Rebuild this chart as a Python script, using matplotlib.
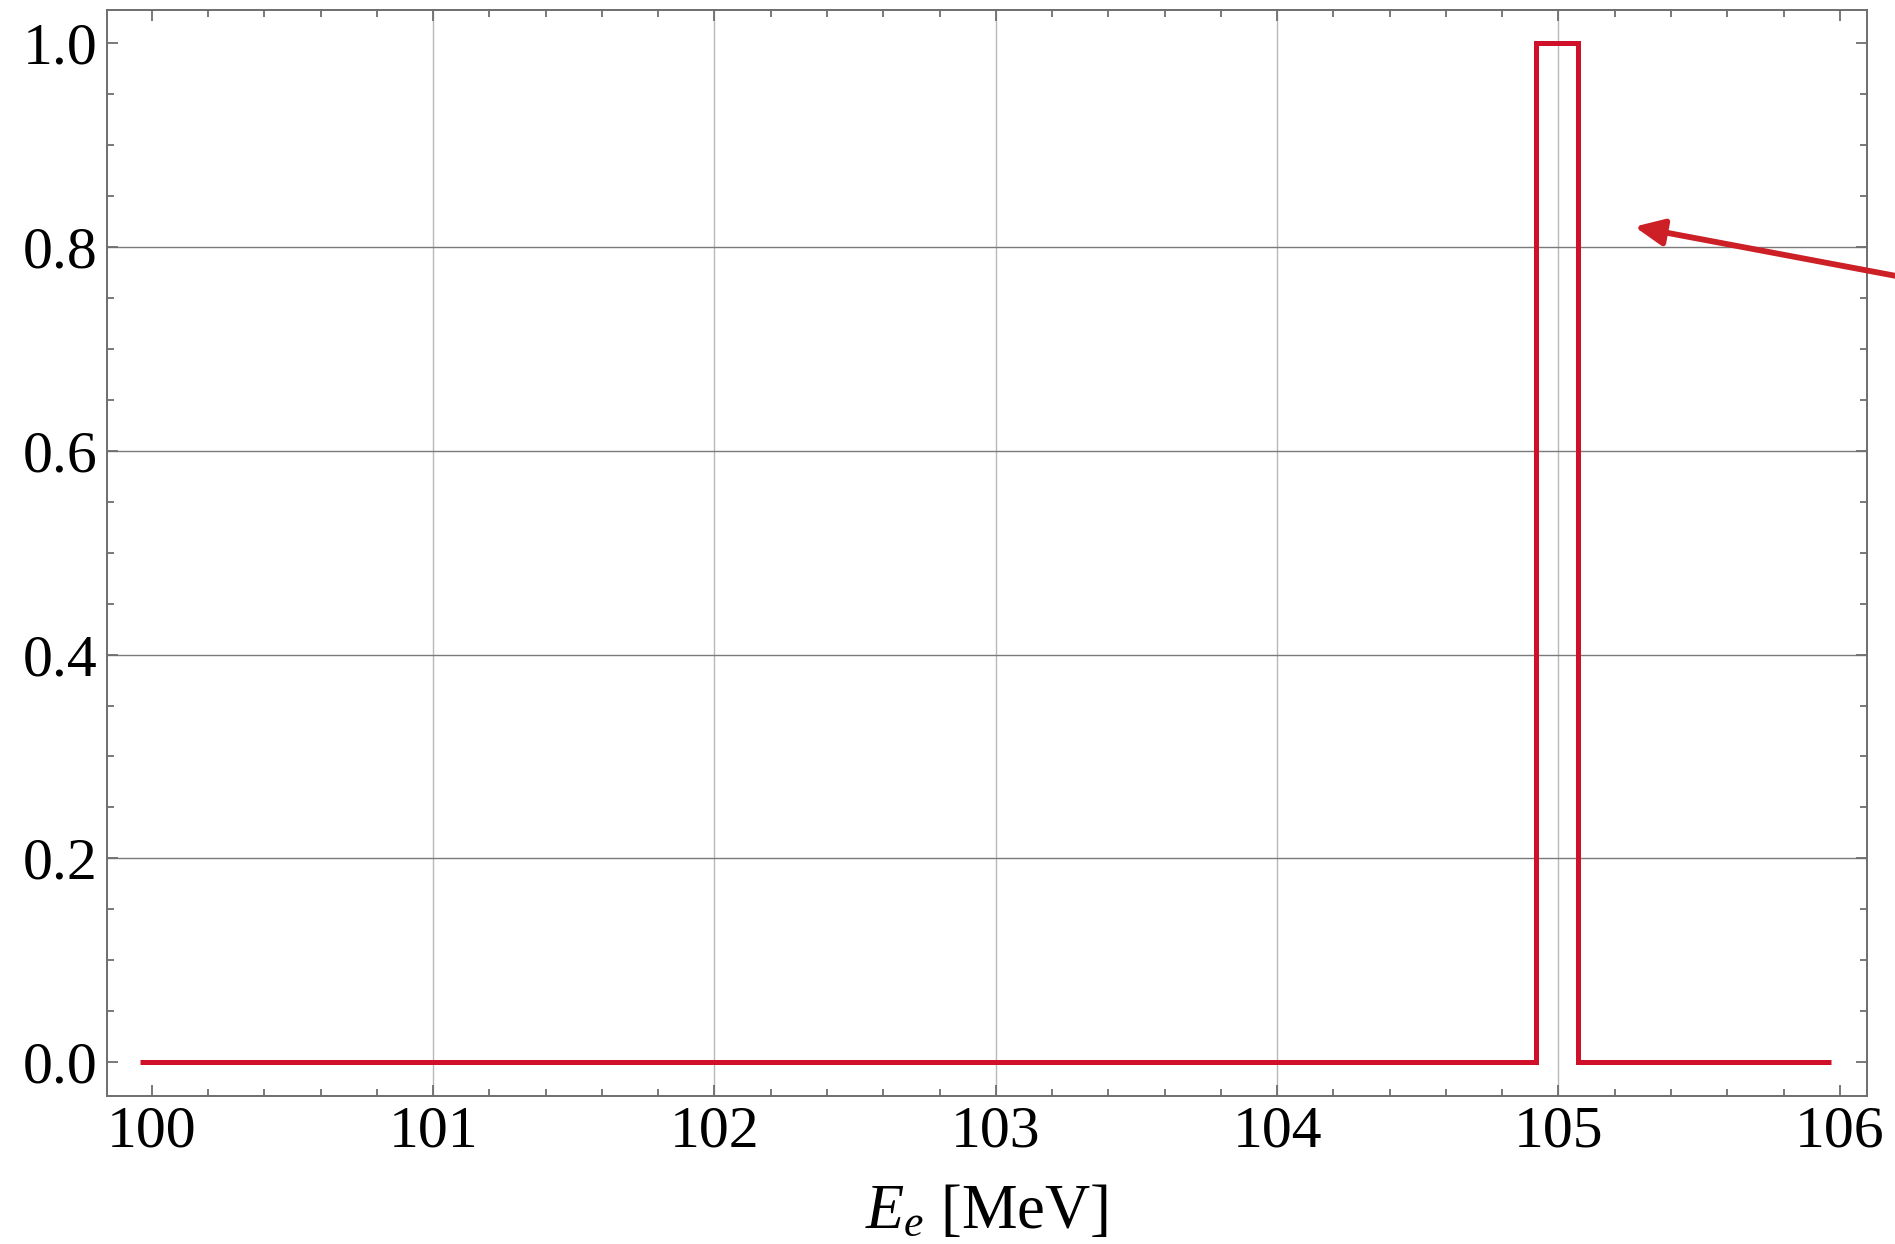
#!/usr/bin/env python3
# Step profile in E_e with a pointer arrow at the peak.
import matplotlib
matplotlib.use("Agg")
import matplotlib.pyplot as plt
from matplotlib.ticker import MultipleLocator

# data: bin edges in MeV and the value in each bin
edges = [99.96, 104.92, 105.07, 105.97]
values = [0.0, 1.0, 0.0]

# arrow (tip, tail) in data coords
arrow_tip = (105.27, 0.82)
arrow_tail = (106.5, 0.756)

x_ticks = [100, 101, 102, 103, 104, 105, 106]
y_ticks = [0.0, 0.2, 0.4, 0.6, 0.8, 1.0]

line_red = "#d01028"
arrow_red = "#cc1f26"
spine_gray = "#6e6e6e"

plt.rcParams["font.family"] = ["Liberation Serif", "DejaVu Serif"]
plt.rcParams["mathtext.fontset"] = "custom"
plt.rcParams["mathtext.rm"] = "Liberation Serif"
plt.rcParams["mathtext.it"] = "Liberation Serif:italic"

fig = plt.figure(figsize=(18.95, 12.44), dpi=100)
ax = fig.add_axes([0.0566, 0.1192, 0.9284, 0.8728])

# grid only on the inner ticks (no lines at the outer ones)
for xv in x_ticks[1:-1]:
    ax.axvline(xv, color="#b8b8b8", lw=1.0, zorder=1)
for yv in y_ticks[1:-1]:
    ax.axhline(yv, color="#7a7a7a", lw=1.0, zorder=1)

ax.stairs(values, edges, baseline=None, color=line_red, lw=3.6,
          joinstyle="miter", capstyle="butt", zorder=3)

ax.annotate("", xy=arrow_tip, xytext=arrow_tail, xycoords="data",
            annotation_clip=False,
            arrowprops=dict(arrowstyle="-|>,head_length=1.75,head_width=0.8",
                            color=arrow_red, lw=4.2, shrinkA=0, shrinkB=0))

ax.set_xlim(99.842, 106.095)
ax.set_ylim(-0.033, 1.0327)
ax.set_xticks(x_ticks)
ax.set_yticks(y_ticks)
ax.set_xticklabels([str(t) for t in x_ticks])
ax.set_yticklabels([f"{t:.1f}" for t in y_ticks])
ax.xaxis.set_minor_locator(MultipleLocator(0.2))
ax.yaxis.set_minor_locator(MultipleLocator(0.05))

ax.tick_params(which="both", direction="in", top=True, right=True,
               color=spine_gray, width=1.3)
ax.tick_params(which="major", length=7.7, labelsize=43, pad=7)
ax.tick_params(which="minor", length=4.8)

for s in ax.spines.values():
    s.set_color(spine_gray)
    s.set_linewidth(1.4)

ax.set_xlabel("$E_e$ [MeV]", fontsize=45, labelpad=18)

fig.savefig("out.png", dpi=100)
